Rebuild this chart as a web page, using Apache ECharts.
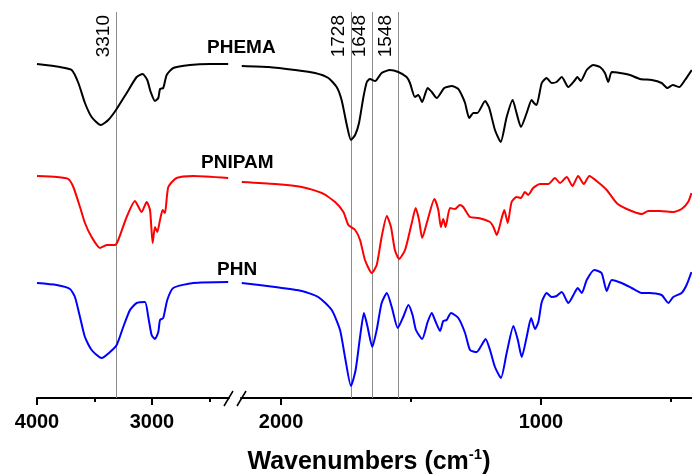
<!DOCTYPE html>
<html>
<head>
<meta charset="utf-8">
<script src="https://cdn.jsdelivr.net/npm/echarts@6/dist/echarts.min.js"></script>
<style>
  html, body { margin: 0; padding: 0; background: #fff; }
  #chart { width: 692px; height: 475px; }
</style>
</head>
<body>
<div id="chart"></div>
<script>
// spectra, [wavenumber, transmittance (a.u., offset per trace)]
var phema = [
  [4000,334],[3800,331],[3698,328],[3640,315],[3583,295],[3525,281],[3446,273],[3380,278],
  [3313,288],[3220,305],[3133,321],[3081,324],[3041,318],[3011,306],[2974,297],[2945,300],
  [2930,309],[2902,310],[2872,323],[2815,330],[2670,333],[2496,334],[2337,334],
  [2151,332],[2049,331],[1946,328],[1869,325],[1818,320],[1786,311],[1767,298],[1747,273],
  [1731,258],[1715,263],[1700,275],[1683,301],[1670,316],[1658,319],[1638,317],[1613,325],
  [1581,328],[1549,326],[1517,321],[1504,315],[1485,301],[1472,303],[1457,296],[1436,310],
  [1420,306],[1401,300],[1372,310],[1343,312],[1318,309],[1305,303],[1292,295],[1276,280],
  [1260,285],[1245,285],[1215,297],[1199,290],[1177,268],[1155,256],[1132,281],[1109,298],
  [1094,285],[1077,271],[1055,285],[1036,298],[1027,295],[1017,293],[997,315],[978,320],
  [959,315],[940,316],[920,321],[895,311],[869,318],[860,321],[847,317],[824,328],[799,333],
  [773,331],[754,325],[741,316],[728,326],[696,325],[658,323],[619,319],[574,318],[536,315],
  [514,310],[493,313],[468,311],[446,318],[420,328]
];
var pnipam = [
  [4000,222],[3829,221],[3728,219],[3684,211],[3626,191],[3583,175],[3525,161],[3452,150],
  [3394,153],[3322,153],[3293,158],[3220,181],[3148,197],[3090,186],[3046,196],[3017,188],
  [2994,155],[2974,171],[2954,166],[2930,178],[2907,188],[2887,185],[2858,211],[2786,220],
  [2641,222],[2337,220],
  [2151,216],[2023,214],[1920,211],[1843,205],[1792,196],[1760,186],[1741,173],[1715,168],
  [1696,158],[1677,138],[1651,125],[1632,133],[1613,161],[1593,182],[1577,171],[1562,148],
  [1546,139],[1523,148],[1497,175],[1482,190],[1469,178],[1457,160],[1436,178],[1410,199],
  [1395,188],[1385,171],[1376,179],[1367,171],[1350,190],[1331,189],[1312,193],[1299,191],
  [1273,181],[1241,180],[1196,176],[1183,171],[1170,163],[1151,180],[1141,188],[1128,175],
  [1113,196],[1094,201],[1077,200],[1062,206],[1049,203],[1030,210],[1004,214],[972,214],
  [946,220],[927,215],[901,221],[879,212],[857,222],[835,214],[814,222],[786,217],[747,208],
  [709,195],[670,189],[613,184],[587,187],[542,187],[491,186],[459,189],[434,196],[421,205]
];
var phn = [
  [4000,115],[3829,113],[3713,109],[3670,101],[3626,81],[3583,61],[3525,48],[3438,40],
  [3365,46],[3307,53],[3250,71],[3191,88],[3133,95],[3061,96],[3032,81],[3003,63],[2974,59],
  [2945,66],[2930,78],[2902,80],[2867,98],[2815,110],[2641,115],[2337,116],
  [2151,115],[2023,111],[1920,107],[1857,101],[1805,88],[1773,68],[1754,41],[1731,12],
  [1713,28],[1696,61],[1681,85],[1667,71],[1649,51],[1632,68],[1613,95],[1593,105],[1574,91],
  [1551,70],[1530,81],[1510,93],[1494,83],[1481,68],[1457,59],[1436,76],[1420,85],[1408,78],
  [1388,67],[1376,77],[1363,78],[1346,85],[1318,80],[1292,65],[1273,48],[1247,46],[1228,53],
  [1213,59],[1196,48],[1177,31],[1154,20],[1132,45],[1106,72],[1089,58],[1074,41],[1055,61],
  [1038,80],[1023,69],[1010,76],[997,96],[978,105],[959,101],[940,102],[920,106],[895,95],
  [869,106],[859,110],[843,105],[824,118],[795,128],[767,125],[747,107],[728,118],[690,115],
  [651,110],[613,105],[581,105],[536,103],[510,95],[491,101],[459,105],[440,113],[421,126]
];

var seriesNames = ['PHEMA', 'PNIPAM', 'PHN'];
var seriesColors = ['#000000', '#ff0000', '#0000ff'];
var peakLines = [3310, 1728, 1648, 1548];
var majorTicks = [4000, 3000, 2000, 1000];
var minorTicks = [3500, 2500, 1500, 500];

// broken axis: left piece 4000..2330, right piece 2154..419
var leftRange = [2330, 4000];
var rightRange = [419, 2154];

var FONT = '"Liberation Sans", Arial, sans-serif';
var chart = echarts.init(document.getElementById('chart'));

function inRange(r) {
    return function (v) { return v >= r[0] && v <= r[1]; };
}
function pick(data, r) {
    return data.filter(function (d) { return d[0] >= r[0] - 1 && d[0] <= r[1] + 1; });
}

function mainAxis(gridIndex, r) {
    return {
        type: 'value', gridIndex: gridIndex, inverse: true,
        min: r[0], max: r[1],
        axisLine: { show: true, onZero: false, lineStyle: { color: '#000', width: 2 } },
        axisTick: { show: true, inside: false, length: 7, lineStyle: { color: '#000', width: 2 },
                    customValues: majorTicks.filter(inRange(r)) },
        axisLabel: { show: true, margin: 14, color: '#000', fontSize: 20, fontWeight: 'bold',
                     fontFamily: FONT, customValues: majorTicks.filter(inRange(r)),
                     formatter: function (v) { return String(v); } },
        splitLine: { show: false }
    };
}
function minorAxis(gridIndex, r) {
    return {
        type: 'value', gridIndex: gridIndex, inverse: true,
        min: r[0], max: r[1], position: 'bottom',
        axisLine: { show: false, onZero: false },
        axisTick: { show: true, inside: false, length: 4, lineStyle: { color: '#000', width: 2 },
                    customValues: minorTicks.filter(inRange(r)) },
        axisLabel: { show: false },
        splitLine: { show: false }
    };
}

var allData = [phema, pnipam, phn];
var series = [];
[leftRange, rightRange].forEach(function (r, g) {
    allData.forEach(function (data, i) {
        var s = {
            name: seriesNames[i], type: 'line',
            xAxisIndex: g, yAxisIndex: g,
            data: pick(data, r),
            showSymbol: false, smooth: 0.2, clip: true,
            lineStyle: { color: seriesColors[i], width: 2 },
            z: 3
        };
        if (i === 0) {
            s.markLine = {
                silent: true, symbol: 'none', animation: false, z: 1,
                lineStyle: { color: '#8c8c8c', width: 1, type: 'solid' },
                label: { show: true, position: 'insideEndTop', distance: 3, color: '#000',
                         fontSize: 19, fontFamily: FONT, formatter: function (p) { return p.value; } },
                data: peakLines.filter(inRange(r)).map(function (v) { return { xAxis: v }; })
            };
        }
        series.push(s);
    });
});

var option = {
    backgroundColor: '#fff',
    animation: false,
    grid: [
        { left: 37, top: 12, width: 192, bottom: 77 },
        { left: 241, top: 12, right: 0, bottom: 77 }
    ],
    xAxis: [mainAxis(0, leftRange), mainAxis(1, rightRange), minorAxis(0, leftRange), minorAxis(1, rightRange)],
    yAxis: [
        { type: 'value', gridIndex: 0, min: 0, max: 386, show: false },
        { type: 'value', gridIndex: 1, min: 0, max: 386, show: false }
    ],
    series: series,
    graphic: [
        // trace names
        { type: 'text', left: 207, top: 38, style: { text: seriesNames[0], fill: '#000', font: 'bold 19px ' + FONT } },
        { type: 'text', left: 201, top: 153, style: { text: seriesNames[1], fill: '#000', font: 'bold 19px ' + FONT } },
        { type: 'text', left: 217, top: 260, style: { text: seriesNames[2], fill: '#000', font: 'bold 19px ' + FONT } },
        // axis break marks
        { type: 'line', shape: { x1: 224, y1: 406, x2: 233, y2: 391 }, style: { stroke: '#000', lineWidth: 1.5 } },
        { type: 'line', shape: { x1: 237, y1: 406, x2: 246, y2: 391 }, style: { stroke: '#000', lineWidth: 1.5 } },
        // axis title with superscript
        {
            type: 'text', x: 369, y: 462,
            style: {
                text: '{a|Wavenumbers (cm}{s|-1}{a|)}',
                align: 'center', verticalAlign: 'middle',
                rich: {
                    a: { fontSize: 25, fontWeight: 'bold', fontFamily: FONT, fill: '#000' },
                    s: { fontSize: 15, fontWeight: 'bold', fontFamily: FONT, fill: '#000', padding: [0, 0, 14, 0] }
                }
            }
        }
    ]
};

chart.setOption(option);
</script>
</body>
</html>
